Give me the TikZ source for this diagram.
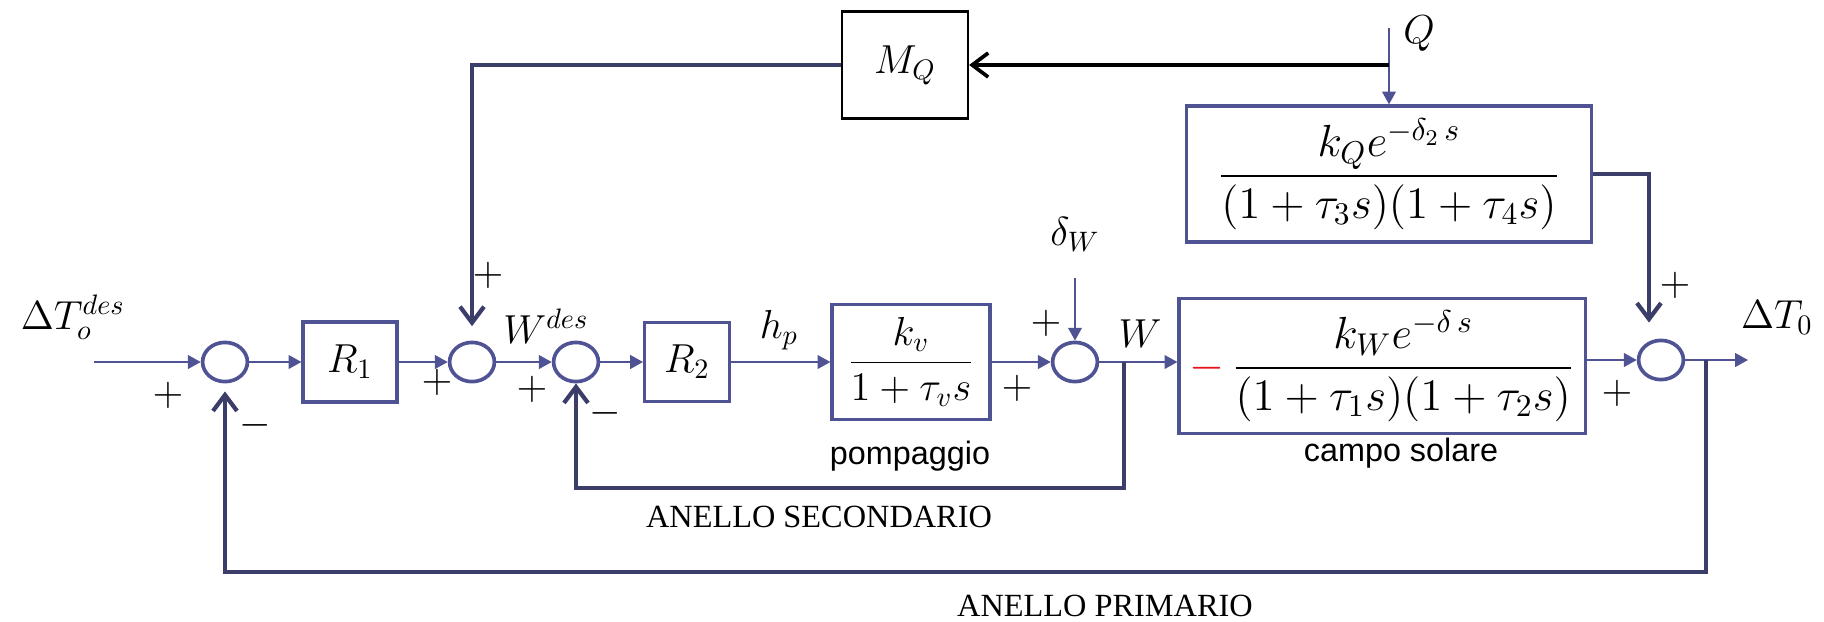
\documentclass[tikz,border=0pt]{standalone}
\usepackage{fix-cm}
\usepackage{xcolor}
\usepackage{fontspec}
\usepackage{tikz}
\usetikzlibrary{arrows.meta,shapes.geometric}
\newfontfamily\arialtxt{Liberation Sans}
\newfontfamily\timestxt{Liberation Serif}
\definecolor{SigBlue}{HTML}{4F5394}
\definecolor{LoopNavy}{HTML}{3C3E6A}
\definecolor{MinusRed}{HTML}{E8141B}
\tikzset{
    sig/.style={SigBlue, line width=0.7pt, -{Triangle[length=0.16cm,width=0.17cm]}},
    fb/.style={LoopNavy, line width=1.5pt, -{Straight Barb[length=0.2cm,width=0.3cm]}},
    qline/.style={black, line width=1.3pt, -{Straight Barb[length=0.2cm,width=0.3cm]}},
    blk/.style={draw=SigBlue, line width=1.1pt, inner sep=0pt, font=\Large},
    bigblk/.style={blk, font=\fontsize{16}{19}\selectfont},
    sumnode/.style={ellipse, draw=SigBlue, line width=1.3pt, minimum width=0.56cm, minimum height=0.49cm, inner sep=0pt},
    lbl/.style={font=\Large, inner sep=1pt},
    sign/.style={font=\Large, inner sep=0pt},
    note/.style={font=\arialtxt\fontsize{11.5}{14}\selectfont},
    loopname/.style={font=\timestxt\fontsize{11.5}{14}\selectfont}
}

\begin{document}
\begin{tikzpicture}[x=0.0125cm, y=-0.0125cm]
        \useasboundingbox (0,0) rectangle (1824,621);

        \node[sumnode] (s1) at (225,362) {};
        \node[blk, minimum width=1.175cm, minimum height=1cm] (r1) at (350,362) {$R_1$};
        \node[sumnode] (s2) at (472,362) {};
        \node[sumnode] (s3) at (576,362) {};
        \node[blk, minimum width=1.06cm, minimum height=0.99cm] (r2) at (687,362) {$R_2$};
        \node[blk, minimum width=1.975cm, minimum height=1.44cm] (pump) at (911,362) {$\displaystyle\frac{k_v}{1+\tau_v s}$};
        \node[sumnode] (s4) at (1075,362) {};
        \node[bigblk, minimum width=5.075cm, minimum height=1.69cm] (kw) at (1382,366) {${\color{MinusRed}-}\,\displaystyle\frac{k_W e^{-\delta\, s}}{(1+\tau_1 s)(1+\tau_2 s)}$};
        \node[sumnode] (s5) at (1661,360) {};
        \node[bigblk, minimum width=5.06cm, minimum height=1.7cm] (kq) at (1389,174) {$\displaystyle\frac{k_Q e^{-\delta_2\, s}}{(1+\tau_3 s)(1+\tau_4 s)}$};
        \node[draw=black, line width=0.8pt, minimum width=1.575cm, minimum height=1.34cm, font=\Large] (mq) at (905,65) {$M_Q$};

        \node[lbl] (tdes) at (73,317) {$\Delta T_o^{des}$};
        \node[lbl] (wdes) at (546,326) {$W^{des}$};
        \node[lbl] (hp) at (779,330) {$h_p$};
        \node[lbl] (dw) at (1075,234) {$\delta_W$};
        \node[lbl] (wlab) at (1140,334) {$W$};
        \node[lbl] (qlab) at (1419,34) {$Q$};
        \node[lbl] (tout) at (1777,318) {$\Delta T_0$};

        \foreach \px/\py [count=\k] in {168/395, 437/382, 488/275, 532/389, 1017/388, 1046/323, 1617/393, 1675/285} {
            \node[sign] (plus\k) at (\px,\py) {$+$};
        }
        \node[sign] (minus1) at (255,425) {$-$};
        \node[sign] (minus2) at (605,413) {$-$};

        \node[note] (pompa) at (910,456) {pompaggio};
        \node[note] (campo) at (1401,453) {campo solare};
        \node[loopname] (secname) at (819,517) {ANELLO SECONDARIO};
        \node[loopname] (priname) at (1105,606) {ANELLO PRIMARIO};

        \coordinate (tin) at (94,362);
        \coordinate (tend) at (1748,360);
        \coordinate (wtap) at (1124,362);
        \coordinate (otap) at (1706,360);
        \coordinate (secb) at (576,488);
        \coordinate (prib) at (225,572);
        \coordinate (qin) at (1389,28);
        \coordinate (qtap) at (1389,65);

        \draw[sig] (tin) -- (s1);
        \draw[sig] (s1) -- (r1);
        \draw[sig] (r1) -- (s2);
        \draw[sig] (s2) -- (s2 -| s3.west);
        \draw[sig] (s3) -- (r2);
        \draw[sig] (r2) -- (pump);
        \draw[sig] (pump) -- (s4);
        \draw[sig] (s4) -- (s4 -| kw.west);
        \draw[sig] (kw.east |- s5) -- (s5);
        \draw[sig] (s5) -- (tend);
        \draw[sig, shorten <=0.3cm] (dw) -- (s4);
        \draw[sig] (qin) -- (kq);
        \draw[qline] (qtap) -- (mq);
        \draw[fb, shorten >=0.18cm] (mq) -| (s2);
        \draw[fb, shorten >=0.2cm] (kq) -| ([xshift=-0.15cm]s5.north);
        \draw[fb] (wtap) |- (secb) -- (s3);
        \draw[fb, shorten >=0.1cm] (otap) |- (prib) -- (s1);
    \end{tikzpicture}
\end{document}
